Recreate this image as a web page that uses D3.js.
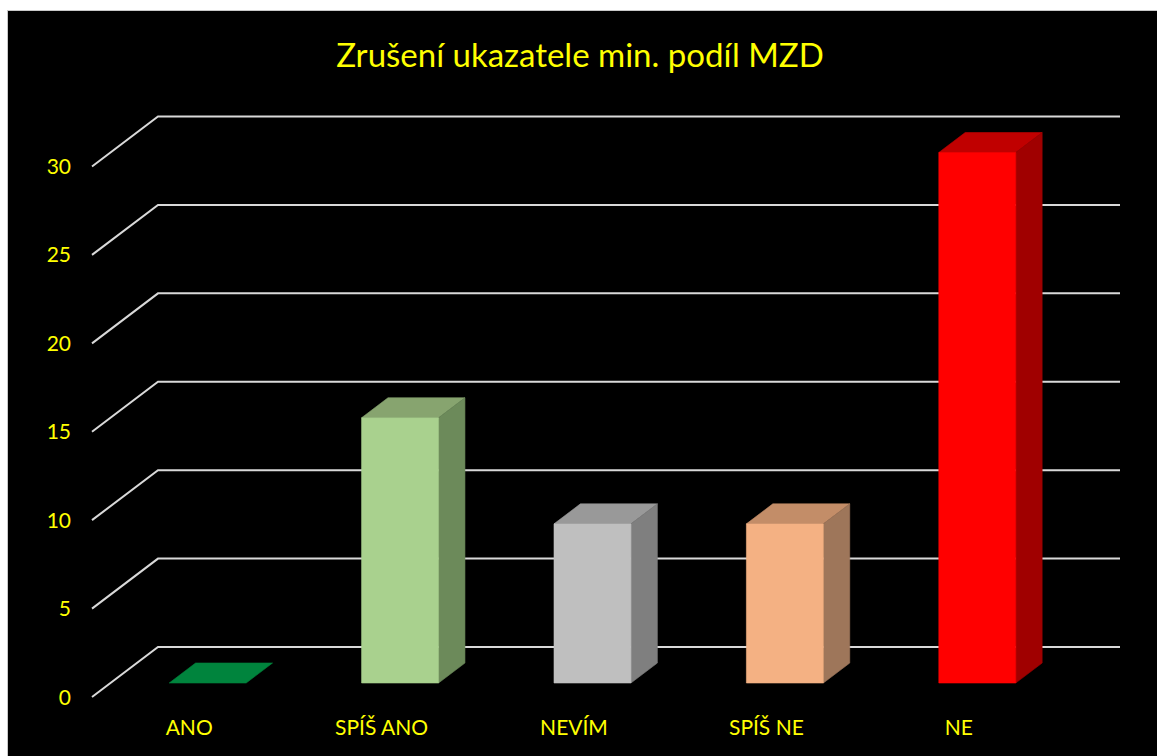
<!DOCTYPE html>
<html>
<head>
<meta charset="utf-8">
<script src="https://cdn.jsdelivr.net/npm/d3@7"></script>
<style>
  body { margin: 0; background: #fff; }
  svg { display: block; }
</style>
</head>
<body>
<svg id="canvas" width="1157" height="756"></svg>
<script>
const categories = ["ANO", "SPÍŠ ANO", "NEVÍM", "SPÍŠ NE", "NE"];
const values = [0, 15, 9, 9, 30];
const frontColors = ["#00843d", "#a9d18e", "#bfbfbf", "#f4b183", "#ff0000"];
const topColors = ["#00843d", "#87a46f", "#999999", "#c38d68", "#c00000"];
const sideColors = ["#005c2a", "#6c8a5a", "#7f7f7f", "#9e765a", "#a00000"];
const yTicks = [0, 5, 10, 15, 20, 25, 30];

const canvas = d3.select("#canvas");

// oblique depth: full floor depth shifts by (66, -50)
const depthX = 66, depthY = -50;
const barD0 = 0.28, barD1 = 0.68;

const x = d3.scaleBand().domain(categories).range([92, 1054]);
const y = d3.scaleLinear().domain([0, 30]).range([697, 166.5]);

function proj(px, v, d) {
  return [px + d * depthX, y(v) + d * depthY];
}

canvas.append("rect")
  .attr("x", 7.5).attr("y", 10.5)
  .attr("width", 1160).attr("height", 760)
  .attr("fill", "#000")
  .attr("stroke", "#c8c8c8")
  .attr("stroke-width", 1);

canvas.append("text")
  .attr("x", 580)
  .attr("y", 67)
  .attr("text-anchor", "middle")
  .attr("fill", "#ffff00")
  .attr("font-family", "Lato")
  .attr("font-size", 33)
  .text("Zrušení ukazatele min. podíl MZD");

// gridlines: diagonal on the side wall + horizontal on the back wall
const grid = canvas.append("g");
yTicks.forEach(t => {
  const a = proj(x.range()[0], t, 0);
  const b = proj(x.range()[0], t, 1);
  const c = proj(x.range()[1], t, 1);
  grid.append("path")
    .attr("d", d3.line()([a, b, c]))
    .attr("fill", "none")
    .attr("stroke", "#d9d9d9")
    .attr("stroke-width", 2);
});

// y labels
canvas.append("g")
  .selectAll("text")
  .data(yTicks)
  .join("text")
  .attr("x", 71)
  .attr("y", d => y(d))
  .attr("dy", "0.36em")
  .attr("text-anchor", "end")
  .attr("fill", "#ffff00")
  .attr("font-family", "Lato")
  .attr("font-size", 21)
  .text(d => d);

// bars
const barW = x.bandwidth() * 0.4;
const bars = canvas.append("g")
  .selectAll("g")
  .data(categories.map((c, i) => ({ c, v: values[i], i })))
  .join("g");

bars.each(function(d) {
  const g = d3.select(this);
  const x0 = x(d.c) + (x.bandwidth() - barW) / 2 + 1;
  const x1 = x0 + barW;
  const line = d3.line();
  const face = (pts, col) => g.append("path")
    .attr("d", line(pts) + "Z")
    .attr("fill", col)
    .attr("stroke", col)
    .attr("stroke-width", 0.6)
    .attr("stroke-linejoin", "round");
  face([proj(x0, d.v, barD0), proj(x1, d.v, barD0), proj(x1, d.v, barD1), proj(x0, d.v, barD1)], topColors[d.i]);
  if (d.v > 0) {
    face([proj(x1, 0, barD0), proj(x1, 0, barD1), proj(x1, d.v, barD1), proj(x1, d.v, barD0)], sideColors[d.i]);
    face([proj(x0, 0, barD0), proj(x1, 0, barD0), proj(x1, d.v, barD0), proj(x0, d.v, barD0)], frontColors[d.i]);
  }
});

// category labels
canvas.append("g")
  .selectAll("text")
  .data(categories)
  .join("text")
  .attr("x", d => x(d) + x.bandwidth() / 2 + 1)
  .attr("y", 735)
  .attr("text-anchor", "middle")
  .attr("fill", "#ffff00")
  .attr("font-family", "Lato")
  .attr("font-size", 21)
  .text(d => d);
</script>
</body>
</html>
